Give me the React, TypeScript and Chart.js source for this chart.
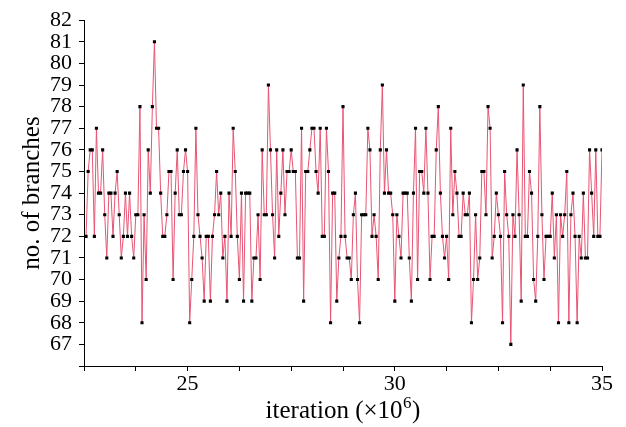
import { useEffect, useRef } from 'react';
import { Chart, registerables } from 'chart.js';

Chart.register(...registerables);

// iterations are sampled every 0.05 ×10^6 starting just after 22.5 ×10^6
const iterationStart = 22.5;
const iterationStep = 0.05;

const branches: number[] = [
  72, 75, 76, 76, 72, 77, 74, 74, 76, 73,
  71, 74, 74, 72, 74, 75, 73, 71, 72, 74,
  72, 74, 72, 71, 73, 73, 78, 68, 73, 70,
  76, 74, 78, 81, 77, 77, 74, 72, 72, 73,
  75, 75, 70, 74, 76, 73, 73, 75, 76, 75,
  68, 70, 72, 77, 73, 72, 71, 69, 72, 72,
  69, 72, 73, 75, 73, 74, 71, 72, 69, 74,
  72, 77, 75, 72, 70, 74, 69, 74, 74, 74,
  69, 71, 71, 73, 70, 76, 73, 73, 79, 76,
  73, 71, 76, 72, 74, 76, 73, 75, 75, 76,
  75, 75, 71, 71, 77, 69, 75, 75, 76, 77,
  77, 75, 74, 77, 72, 72, 77, 75, 68, 74,
  74, 69, 71, 72, 78, 72, 71, 71, 70, 73,
  74, 70, 68, 73, 73, 73, 77, 76, 72, 73,
  72, 70, 76, 79, 74, 76, 74, 74, 73, 69,
  73, 72, 71, 74, 74, 74, 71, 69, 74, 77,
  70, 75, 75, 74, 77, 74, 70, 72, 72, 76,
  78, 74, 72, 71, 72, 70, 77, 73, 75, 74,
  72, 72, 74, 73, 73, 74, 68, 70, 73, 70,
  71, 75, 75, 73, 78, 77, 71, 72, 74, 73,
  72, 68, 75, 73, 72, 67, 73, 72, 76, 73,
  69, 79, 72, 72, 75, 74, 70, 69, 72, 78,
  73, 70, 72, 72, 72, 74, 71, 73, 68, 73,
  72, 73, 75, 68, 73, 74, 72, 68, 72, 71,
  74, 71, 71, 76, 74, 72, 76, 72, 72, 76,
];

const xMin = 22.5;
const xMax = 35;
const xTickStep = 1.25;
const xTickLabels = [25, 30, 35];
const yMin = 66;
const yMax = 82;
const yTickLabels = [67, 68, 69, 70, 71, 72, 73, 74, 75, 76, 77, 78, 79, 80, 81, 82];

const xTitleMain = 'iteration (×10';
const xTitleSup = '6';
const xTitleTail = ')';
const yTitle = 'no. of branches';

const FONT = '"Liberation Serif", "Times New Roman", serif';

const xTitlePlugin = {
  id: 'xTitleSup',
  afterDraw(chart: any) {
    const ctx = chart.ctx as CanvasRenderingContext2D;
    const area = chart.chartArea;
    const cx = (area.left + area.right) / 2;
    const y = chart.height - 9;
    ctx.save();
    ctx.fillStyle = '#000';
    ctx.textAlign = 'left';
    ctx.textBaseline = 'alphabetic';
    ctx.font = `25px ${FONT}`;
    const w1 = ctx.measureText(xTitleMain).width;
    const w3 = ctx.measureText(xTitleTail).width;
    ctx.font = `17px ${FONT}`;
    const w2 = ctx.measureText(xTitleSup).width + 1;
    let x = cx - (w1 + w2 + w3) / 2;
    ctx.font = `25px ${FONT}`;
    ctx.fillText(xTitleMain, x, y);
    x += w1;
    ctx.font = `17px ${FONT}`;
    ctx.fillText(xTitleSup, x + 0.5, y - 10);
    x += w2;
    ctx.font = `25px ${FONT}`;
    ctx.fillText(xTitleTail, x, y);
    ctx.restore();
  },
};

export default function App() {
  const canvasRef = useRef<HTMLCanvasElement | null>(null);

  useEffect(() => {
    document.body.style.margin = '0';
    const canvas = canvasRef.current;
    if (!canvas) return;
    const points = branches.map((v, i) => ({
      x: iterationStart + iterationStep * (i + 1),
      y: v,
    }));
    const chart = new Chart(canvas, {
      type: 'line',
      data: {
        datasets: [
          {
            data: points,
            borderColor: 'rgb(232, 85, 115)',
            borderWidth: 1,
            pointStyle: 'rect',
            pointRadius: 2.2,
            pointBackgroundColor: '#000',
            pointBorderWidth: 0,
            tension: 0,
          },
        ],
      },
      options: {
        animation: false,
        responsive: true,
        maintainAspectRatio: false,
        layout: { padding: { top: 19, right: 24, left: 0, bottom: 0 } },
        plugins: {
          legend: { display: false },
          tooltip: { enabled: false },
        },
        scales: {
          x: {
            type: 'linear',
            min: xMin,
            max: xMax,
            afterFit: (scale: any) => {
              scale.height = 61;
            },
            ticks: {
              stepSize: xTickStep,
              autoSkip: false,
              maxRotation: 0,
              padding: 0,
              color: '#000',
              font: { family: FONT, size: 22 },
              callback: (value: any) => {
                const v = Number(value);
                const hit = xTickLabels.find((t) => Math.abs(t - v) < 1e-6);
                return hit !== undefined ? String(hit) : '';
              },
            },
            grid: {
              drawOnChartArea: false,
              drawTicks: true,
              tickLength: 5,
              tickColor: '#000',
              color: '#000',
            },
            border: { display: true, color: '#000', width: 1 },
            title: { display: false },
          },
          y: {
            type: 'linear',
            min: yMin,
            max: yMax,
            afterFit: (scale: any) => {
              scale.width = 84;
            },
            ticks: {
              stepSize: 1,
              autoSkip: false,
              padding: 7,
              color: '#000',
              font: { family: FONT, size: 22 },
              callback: (value: any) => {
                const v = Math.round(Number(value));
                return yTickLabels.includes(v) ? String(v) : '';
              },
            },
            grid: {
              drawOnChartArea: false,
              drawTicks: true,
              tickLength: 5,
              tickColor: '#000',
              color: '#000',
            },
            border: { display: true, color: '#000', width: 1 },
            title: {
              display: true,
              text: yTitle,
              color: '#000',
              font: { family: FONT, size: 25 },
              padding: { top: 17, bottom: 0 },
            },
          },
        },
      },
      plugins: [xTitlePlugin],
    });
    return () => chart.destroy();
  }, []);

  return (
    <div style={{ position: 'relative', width: 626, height: 427 }}>
      <canvas ref={canvasRef} />
    </div>
  );
}
